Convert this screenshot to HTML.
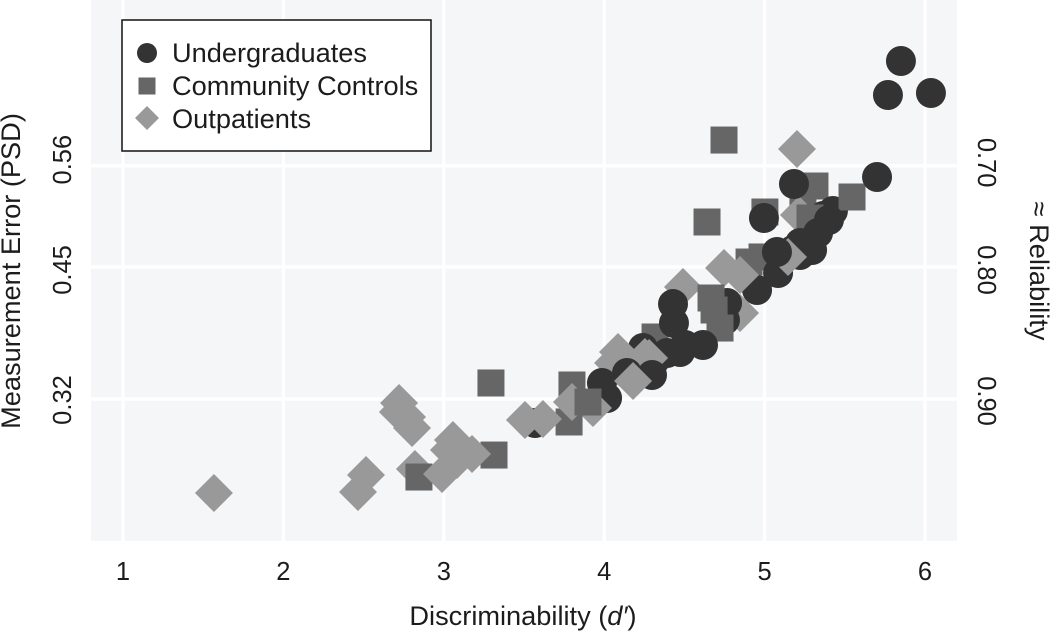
<!DOCTYPE html>
<html lang="en">
<head>
<meta charset="utf-8">
<title>Measurement Error vs Discriminability</title>
<style>
  html, body { margin: 0; padding: 0; background: #fff; }
  svg { display: block; font-family: "Liberation Sans", sans-serif; }
  text { fill: #1c1c1c; }
</style>
</head>
<body>
<svg id="chart" width="1050" height="631" viewBox="0 0 1050 631" xmlns="http://www.w3.org/2000/svg">
  <rect x="91" y="0" width="866" height="541" fill="#f5f6f8"/>
  <g id="grid"></g>
  <g id="points"></g>
  <g id="ticks" font-size="25.5"></g>

  <text x="523" y="625" font-size="27.2" text-anchor="middle">Discriminability (<tspan font-style="italic">d′</tspan>)</text>
  <text transform="translate(20 271) rotate(-90)" font-size="27.2" text-anchor="middle">Measurement Error (PSD)</text>
  <text transform="translate(1030 271) rotate(90)" font-size="27.2" text-anchor="middle">≈ Reliability</text>

  <g>
    <rect x="122" y="20" width="309" height="131" fill="#fff" stroke="#111" stroke-width="1.5"/>
    <circle cx="147" cy="53" r="10" fill="#333"/>
    <rect x="138.5" y="77.5" width="17" height="17" fill="#666"/>
    <polygon points="147,106 159,118 147,130 135,118" fill="#999"/>
    <text x="172" y="62" font-size="27.2">Undergraduates</text>
    <text x="172" y="95" font-size="27.2">Community Controls</text>
    <text x="172" y="128" font-size="27.2">Outpatients</text>
  </g>
</svg>
<script>
// Chart data: categories, ticks, and per-point values in paint order.
const categories = ['Undergraduates', 'Community Controls', 'Outpatients'];
const xTicks = [1, 2, 3, 4, 5, 6];
const yTickValues = [0.5477, 0.4472, 0.3162];
const yTickLabels = ['0.56', '0.45', '0.32'];
const reliabilityLabels = ['0.70', '0.80', '0.90'];

const pointGroup = [
  1,1,1,0,0,2,1,0,0,1,0,2,1,1,0,0,0,
  0,0,0,0,0,0,1,1,0,0,2,0,2,2,
  1,2,2,0,0,1,1,1,0,0,0,0,0,0,0,
  0,2,2,2,2,0,0,0,0,
  2,1,1,2,1,2,0,2,2,1,1,
  2,2,2,2,2,2,2,2,1,2,2,2,2,2
];
const dPrime = [
  5.314,5.239,5.002,5.426,5.364,5.214,5.283,5.183,4.996,5.545,5.701,5.202,4.747,4.641,5.850,5.769,6.037,
  5.221,5.401,5.177,5.333,5.296,5.221,4.903,4.984,5.084,4.953,5.146,5.077,4.747,4.847,
  4.317,4.491,4.847,4.766,4.753,4.666,4.685,4.722,4.429,4.435,4.392,4.473,4.317,4.504,4.616,
  4.242,4.055,4.086,4.254,4.280,4.142,4.298,3.986,4.018,
  3.930,3.799,3.781,3.799,3.899,4.180,3.569,3.506,3.618,3.294,3.313,
  1.567,2.515,2.465,2.721,2.714,2.771,2.802,2.820,2.845,3.057,3.032,3.176,3.082,2.989
];
const psd = [
  0.5275,0.5136,0.5017,0.5027,0.4977,0.4987,0.4958,0.5295,0.4958,0.5166,0.5364,0.5642,0.5731,0.4918,0.6515,0.6178,0.6198,
  0.4710,0.4938,0.4640,0.4809,0.4640,0.4590,0.4521,0.4571,0.4412,0.4243,0.4571,0.4620,0.4462,0.4392,
  0.3777,0.4273,0.4015,0.4114,0.3946,0.4164,0.4045,0.3866,0.4104,0.3916,0.3618,0.3628,0.3549,0.3698,0.3698,
  0.3668,0.3519,0.3628,0.3579,0.3569,0.3420,0.3400,0.3321,0.3172,
  0.3073,0.3301,0.2934,0.3132,0.3132,0.3341,0.2924,0.2954,0.2964,0.3321,0.2606,
  0.2229,0.2408,0.2239,0.3122,0.3033,0.2983,0.2874,0.2468,0.2388,0.2755,0.2656,0.2616,0.2557,0.2418
];

const SVG_NS = 'http://www.w3.org/2000/svg';
const xScale = d => 123 + (d - 1) * 160.4;
const yScale = p => 399 - (p - 0.3162) * 1008;
const leftLabelNudge = i => [-6, 3, 1][i];
const rightLabelNudge = i => [-3, 3, 2][i];

const grid = document.getElementById('grid');
const ticks = document.getElementById('ticks');
const points = document.getElementById('points');

function line(x1, y1, x2, y2) {
  const el = document.createElementNS(SVG_NS, 'line');
  el.setAttribute('x1', x1);
  el.setAttribute('y1', y1);
  el.setAttribute('x2', x2);
  el.setAttribute('y2', y2);
  el.setAttribute('stroke', '#fff');
  el.setAttribute('stroke-width', '3.4');
  
  grid.appendChild(el);
  return el;
}

function label(str, transform, anchor) {
  const el = document.createElementNS(SVG_NS, 'text');
  el.textContent = str;
  el.setAttribute('transform', transform);
  el.setAttribute('text-anchor', anchor);
  
  ticks.appendChild(el);
  return el;
}

xTicks.forEach(t => {
  const g = line(xScale(t), 0, xScale(t), 541);
  
  const l = label(String(t), `translate(${xScale(t)} 580)`, 'middle');
  
});

yTickValues.forEach((v, i) => {
  const g = line(91, yScale(v), 957, yScale(v));
  
  const l = label(yTickLabels[i], `translate(71 ${yScale(v) + leftLabelNudge(i)}) rotate(-90)`, 'middle');
  
  const r = label(reliabilityLabels[i], `translate(978 ${yScale(v) + rightLabelNudge(i)}) rotate(90)`, 'middle');
  
});

dPrime.forEach((d, i) => {
  const cx = xScale(d);
  const cy = yScale(psd[i]);
  const group = pointGroup[i];
  let el;
  if (group === 0) {
    el = document.createElementNS(SVG_NS, 'circle');
    el.setAttribute('cx', cx);
    el.setAttribute('cy', cy);
    el.setAttribute('r', 15);
    el.setAttribute('fill', '#333');
  } else if (group === 1) {
    el = document.createElementNS(SVG_NS, 'rect');
    el.setAttribute('x', cx - 13.5);
    el.setAttribute('y', cy - 13.5);
    el.setAttribute('width', 27);
    el.setAttribute('height', 27);
    el.setAttribute('fill', '#666');
  } else {
    el = document.createElementNS(SVG_NS, 'polygon');
    el.setAttribute('points', `${cx},${cy - 19} ${cx + 19},${cy} ${cx},${cy + 19} ${cx - 19},${cy}`);
    el.setAttribute('fill', '#999');
  }
  
  
  points.appendChild(el);
});
</script>
</body>
</html>
